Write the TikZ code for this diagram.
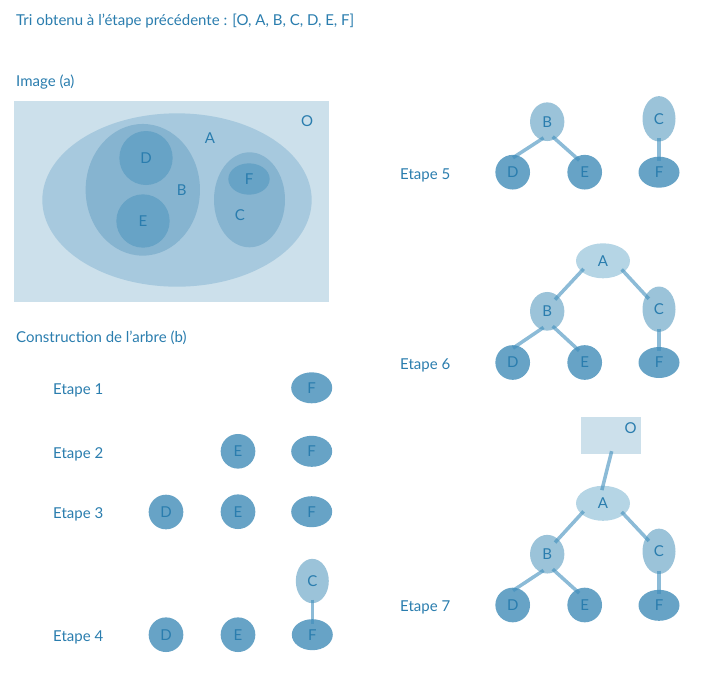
\documentclass[tikz,border=0pt]{standalone}
\usepackage{fontspec}
\setmainfont{Lato}
\usetikzlibrary{shapes.geometric}

\definecolor{encre}{HTML}{2A7DAE}
\definecolor{fondO}{HTML}{CCE0EB}
\definecolor{fondA}{HTML}{A7C9DE}
\definecolor{fondB}{HTML}{86B4D0}
\definecolor{plein}{HTML}{67A3C6}
\definecolor{clairA}{HTML}{B5D5E5}
\definecolor{moyen}{HTML}{9BC3D9}
\definecolor{trait}{HTML}{3F8EBC}

\begin{document}
\begin{tikzpicture}[
    x=0.03cm, y=-0.03cm,
    font=\fontsize{12.8}{15}\selectfont,
    every node/.style = {text=encre},
    txt/.style     = {anchor=base west, inner sep=0pt},
    lettre/.style  = {inner sep=0pt},
    vbase/.style   = {ellipse, inner sep=0pt},
    feuille/.style = {vbase, fill=plein, minimum width=1.04cm,
                      minimum height=1.04cm},
    feuilleF/.style= {vbase, fill=plein, minimum width=1.23cm,
                      minimum height=0.93cm},
    noeudB/.style  = {vbase, fill=moyen, minimum width=1.03cm,
                      minimum height=1.16cm},
    noeudC/.style  = {vbase, fill=moyen, minimum width=0.99cm,
                      minimum height=1.36cm},
    noeudA/.style  = {vbase, fill=clairA, minimum width=1.62cm,
                      minimum height=1.05cm},
    racine/.style  = {rectangle, fill=fondO, inner sep=0pt,
                      minimum width=1.79cm, minimum height=1.13cm},
    lien/.style    = {draw=trait, draw opacity=0.6, line width=3pt,
                      shorten <=-3pt, shorten >=-4pt},
  ]
  \useasboundingbox (0,0) rectangle (723,687);

  % textes
  \node[txt] (titre) at (16,25) {Tri obtenu à l’étape précédente : [O, A, B, C, D, E, F]};
  \node[txt] (imga) at (16,86) {Image (a)};
  \node[txt] (constr) at (16,342) {Construction de l’arbre (b)};
  \node[txt] (et1) at (53,394.3) {Etape 1};
  \node[txt] (et2) at (53,458.3) {Etape 2};
  \node[txt] (et3) at (53,518.3) {Etape 3};
  \node[txt] (et4) at (53,641.7) {Etape 4};
  \node[txt] (et5) at (400,179.3) {Etape 5};
  \node[txt] (et6) at (400,369.3) {Etape 6};
  \node[txt] (et7) at (400,611) {Etape 7};

  % image (a)
  \node[rectangle, fill=fondO, minimum width=9.45cm, minimum height=6.03cm] (vO) at (171.5,201.9) {};
  \node[vbase, fill=fondA, minimum width=8.08cm, minimum height=5.2cm] (vA) at (177,200) {};
  \node[vbase, fill=fondB, minimum width=3.43cm, minimum height=3.95cm] (vB) at (142.8,189.8) {};
  \node[vbase, fill=plein, minimum width=1.6cm, minimum height=1.62cm] (vD) at (146,158) {D};
  \node[vbase, fill=plein, minimum width=1.6cm, minimum height=1.6cm] (vE) at (143,221) {E};
  \node[vbase, fill=fondB, minimum width=2.13cm, minimum height=2.85cm] (vC) at (249.5,199.8) {};
  \node[vbase, fill=plein, minimum width=1.24cm, minimum height=0.94cm] (vF) at (249,179) {F};
  \node[lettre] (lO) at (307,121) {O};
  \node[lettre] (lA) at (210,138) {A};
  \node[lettre] (lB) at (181.7,190) {B};
  \node[lettre] (lC) at (240,215) {C};

  % etapes 1 a 4
  \node[feuilleF] (e1F) at (311.7,387.8) {F};
  \node[feuille] (e2E) at (238,451.3) {E};
  \node[feuilleF] (e2F) at (311.7,451.3) {F};
  \node[feuille] (e3D) at (166,512) {D};
  \node[feuille] (e3E) at (238,511.7) {E};
  \node[feuilleF] (e3F) at (311.7,511.7) {F};
  \node[noeudC, minimum height=1.33cm] (e4C) at (312.3,581) {C};
  \node[feuille] (e4D) at (166,634.7) {D};
  \node[feuille] (e4E) at (238,634.7) {E};
  \node[feuilleF] (e4F) at (312.3,634.7) {F};

  % etape 5
  \node[noeudB] (e5B) at (547.2,121.7) {B};
  \node[noeudC] (e5C) at (659,118.8) {C};
  \node[feuille] (e5D) at (512.7,172.2) {D};
  \node[feuille] (e5E) at (584.7,172.2) {E};
  \node[feuilleF] (e5F) at (659,172.2) {F};

  % etape 6
  \node[noeudA] (e6A) at (603,260.8) {A};
  \node[noeudB] (e6B) at (547.2,311.3) {B};
  \node[noeudC] (e6C) at (659,309.2) {C};
  \node[feuille] (e6D) at (512.7,362.5) {D};
  \node[feuille] (e6E) at (584.7,362.5) {E};
  \node[feuilleF] (e6F) at (659,362.5) {F};

  % etape 7
  \node[racine] (e7O) at (610.8,435.5) {};
  \node[lettre] (e7lO) at (630.7,428.3) {O};
  \node[noeudA] (e7A) at (603,503.3) {A};
  \node[noeudB] (e7B) at (547.2,554.2) {B};
  \node[noeudC] (e7C) at (659,551.3) {C};
  \node[feuille] (e7D) at (512.7,605) {D};
  \node[feuille] (e7E) at (584.7,605) {E};
  \node[feuilleF] (e7F) at (659,605.3) {F};

  \draw[lien] (e4C.south) -- (e4F.north);

  \draw[lien] (e5B.250) -- (e5D.76);
  \draw[lien] (e5B.295) -- (e5E.121);
  \draw[lien] (e5C.south) -- (e5F.north);

  \draw[lien] (e6A.206) -- (e6B.54);
  \draw[lien] (e6A.332) -- (e6C.134);
  \draw[lien] (e6B.250) -- (e6D.76);
  \draw[lien] (e6B.295) -- (e6E.121);
  \draw[lien] (e6C.south) -- (e6F.north);

  \draw[lien] (e7O.south) -- (e7A.north);
  \draw[lien] (e7A.206) -- (e7B.54);
  \draw[lien] (e7A.332) -- (e7C.134);
  \draw[lien] (e7B.250) -- (e7D.76);
  \draw[lien] (e7B.295) -- (e7E.121);
  \draw[lien] (e7C.south) -- (e7F.north);

\end{tikzpicture}
\end{document}
